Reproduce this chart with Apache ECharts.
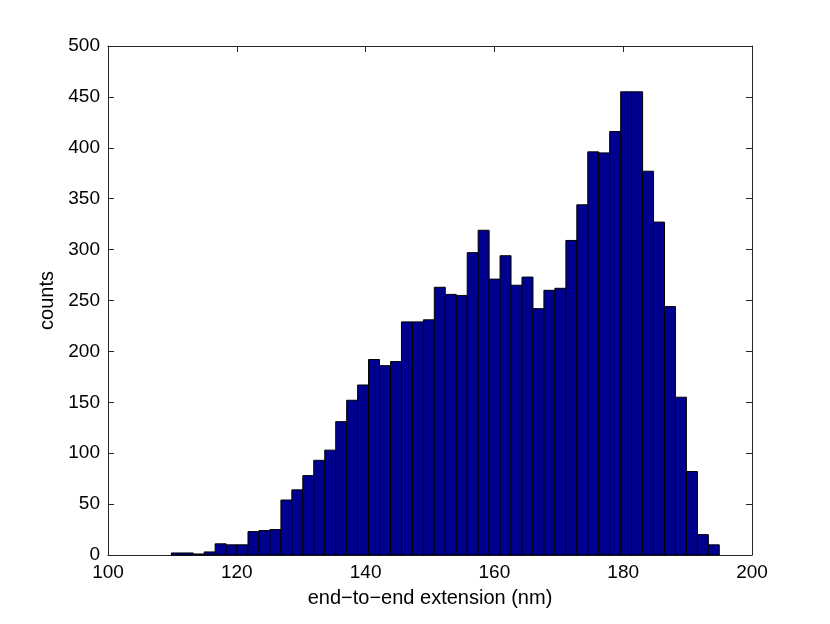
<!DOCTYPE html>
<html>
<head>
<meta charset="utf-8">
<script src="https://cdn.jsdelivr.net/npm/echarts@6/dist/echarts.min.js"></script>
<style>html,body{margin:0;padding:0;background:#fff;}#c{width:830px;height:624px;}</style>
</head>
<body>
<div id="c"></div>
<script>
// Bin centers (nm)
var binCenters = [110.68,112.38,114.08,115.79,117.49,119.19,120.89,122.59,124.29,125.99,
  127.70,129.40,131.10,132.80,134.51,136.21,137.91,139.61,141.31,143.01,
  144.72,146.42,148.12,149.82,151.52,153.23,154.93,156.63,158.33,160.03,
  161.73,163.44,165.14,166.84,168.54,170.24,171.95,173.65,175.35,177.05,
  178.75,180.46,182.16,183.86,185.56,187.26,188.96,190.67,192.37,194.07];
var binWidth = 1.702;
// Counts per bin
var counts = [2,2,1,3,11,10,10,23,24,25,
  54,64,78,93,103,131,152,167,192,186,
  190,229,229,231,263,256,255,297,319,271,
  294,265,273,242,260,262,309,344,396,395,
  416,455,455,377,327,244,155,82,20,10];
var xTicks = [100,120,140,160,180,200];
var yTicks = [0,50,100,150,200,250,300,350,400,450,500];

var data = binCenters.map(function(c,i){return [c, counts[i]];});
var font = "'Liberation Sans', Arial, Helvetica, sans-serif";
var axisCol = '#262626';

var chart = echarts.init(document.getElementById('c'), null, {renderer:'canvas'});
chart.setOption({
  animation:false,
  backgroundColor:'#fff',
  grid:{left:108, right:78, top:46, bottom:69, containLabel:false},
  xAxis:[{
    type:'value', min:100, max:200, interval:20, position:'bottom',
    name:'end\u2212to\u2212end extension (nm)', nameLocation:'middle', nameGap:33,
    nameTextStyle:{fontFamily:font, fontSize:20, color:'#000'},
    axisLine:{show:true, onZero:false, lineStyle:{color:axisCol, width:1}},
    axisTick:{show:true, inside:true, length:6, lineStyle:{color:axisCol}},
    axisLabel:{fontFamily:font, fontSize:19, color:'#000', margin:8},
    splitLine:{show:false}
  },{
    type:'value', min:100, max:200, interval:20, position:'top',
    axisLine:{show:true, onZero:false, lineStyle:{color:axisCol, width:1}},
    axisTick:{show:true, inside:true, length:6, lineStyle:{color:axisCol}},
    axisLabel:{show:false}, splitLine:{show:false}
  }],
  yAxis:[{
    type:'value', min:0, max:500, interval:50, position:'left',
    name:'counts', nameLocation:'middle', nameGap:48, nameRotate:90,
    nameTextStyle:{fontFamily:font, fontSize:20, color:'#000'},
    axisLine:{show:true, onZero:false, lineStyle:{color:axisCol, width:1}},
    axisTick:{show:true, inside:true, length:6, lineStyle:{color:axisCol}},
    axisLabel:{fontFamily:font, fontSize:19, color:'#000', margin:8},
    splitLine:{show:false}
  },{
    type:'value', min:0, max:500, interval:50, position:'right',
    axisLine:{show:true, onZero:false, lineStyle:{color:axisCol, width:1}},
    axisTick:{show:true, inside:true, length:6, lineStyle:{color:axisCol}},
    axisLabel:{show:false}, splitLine:{show:false}
  }],
  series:[{
    type:'custom',
    xAxisIndex:0, yAxisIndex:0,
    data:data,
    renderItem:function(params, api){
      var c = api.value(0), v = api.value(1);
      var p0 = api.coord([c - binWidth/2, 0]);
      var p1 = api.coord([c + binWidth/2, v]);
      return {
        type:'rect',
        shape:{x:p0[0], y:p1[1], width:p1[0]-p0[0], height:p0[1]-p1[1]},
        style:{fill:'#00008f', stroke:'#000', lineWidth:1}
      };
    }
  }]
});
</script>
</body>
</html>
